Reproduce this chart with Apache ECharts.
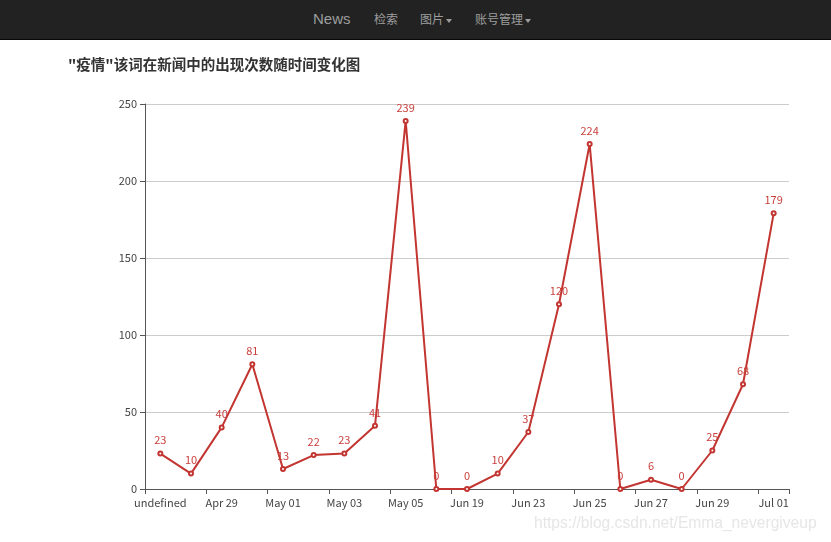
<!DOCTYPE html>
<html>
<head>
<meta charset="utf-8">
<script src="https://cdn.jsdelivr.net/npm/echarts@6/dist/echarts.min.js"></script>
<style>
html,body{margin:0;padding:0;background:#fff;width:831px;height:542px;overflow:hidden;font-family:"Noto Sans CJK SC","Liberation Sans",sans-serif;}
#nav{position:absolute;left:0;top:0;width:831px;height:39px;background:#222;border-bottom:1px solid #080808;}
#nav span{position:absolute;top:0;line-height:38px;color:#9d9d9d;white-space:nowrap;}
.caret{display:inline-block;width:0;height:0;margin-left:2px;vertical-align:middle;border-top:4px solid #9d9d9d;border-left:3px solid transparent;border-right:3px solid transparent;}
#chart{position:absolute;left:0;top:40px;width:831px;height:502px;}
#wm{position:absolute;left:534px;top:514px;font-family:"Liberation Sans",Arial,sans-serif;font-size:15.6px;color:#e6e6e6;white-space:nowrap;}
</style>
</head>
<body>
<div id="nav">
  <span style="left:313px;font-size:15px;font-family:'Liberation Sans',Arial,sans-serif;">News</span>
  <span style="left:374px;font-size:12px;">检索</span>
  <span style="left:420px;font-size:12px;">图片<i class="caret"></i></span>
  <span style="left:475px;font-size:12px;">账号管理<i class="caret"></i></span>
</div>
<div id="chart"></div>
<div id="wm">https://blog.csdn.net/Emma_nevergiveup</div>
<script>
var titleText = '"疫情"该词在新闻中的出现次数随时间变化图';
var categories = ['undefined','Apr 28','Apr 29','Apr 30','May 01','May 02','May 03','May 04','May 05','May 06','Jun 19','Jun 22','Jun 23','Jun 24','Jun 25','Jun 26','Jun 27','Jun 28','Jun 29','Jun 30','Jul 01'];
var counts = [23,10,40,81,13,22,23,41,239,0,0,10,37,120,224,0,6,0,25,68,179];
var yTicks = {min:0,max:250,interval:50};

var chart = echarts.init(document.getElementById('chart'));
var font = '"Noto Sans CJK SC","Microsoft YaHei",sans-serif';
chart.setOption({
  animation:false,
  title:{text:titleText,left:68,top:17,padding:0,textStyle:{fontSize:14.5,fontWeight:'bold',color:'#333',fontFamily:font}},
  grid:{left:145,right:42,top:64,bottom:53,containLabel:false},
  xAxis:{type:'category',data:categories,boundaryGap:true,
    axisLine:{lineStyle:{color:'#555',width:1}},
    axisTick:{show:true,interval:1,length:5,lineStyle:{color:'#555'}},
    axisLabel:{interval:1,color:'#444',fontSize:11,fontFamily:font,margin:8,hideOverlap:false},
    splitLine:{show:false}},
  yAxis:{type:'value',min:yTicks.min,max:yTicks.max,interval:yTicks.interval,
    axisLine:{show:true,lineStyle:{color:'#555',width:1}},
    axisTick:{show:true,length:5,lineStyle:{color:'#555'}},
    axisLabel:{color:'#444',fontSize:11,fontFamily:font,margin:8},
    splitLine:{show:true,lineStyle:{color:'#ccc',width:1}}},
  series:[{type:'line',data:counts,color:'#c23531',
    symbol:'emptyCircle',symbolSize:4,showAllSymbol:true,
    lineStyle:{width:2,color:'#c23531'},
    itemStyle:{color:'#c23531',borderWidth:1},
    label:{show:true,position:'top',distance:5,color:'#c9403c',fontSize:11,fontFamily:font}}]
});
</script>
</body>
</html>
